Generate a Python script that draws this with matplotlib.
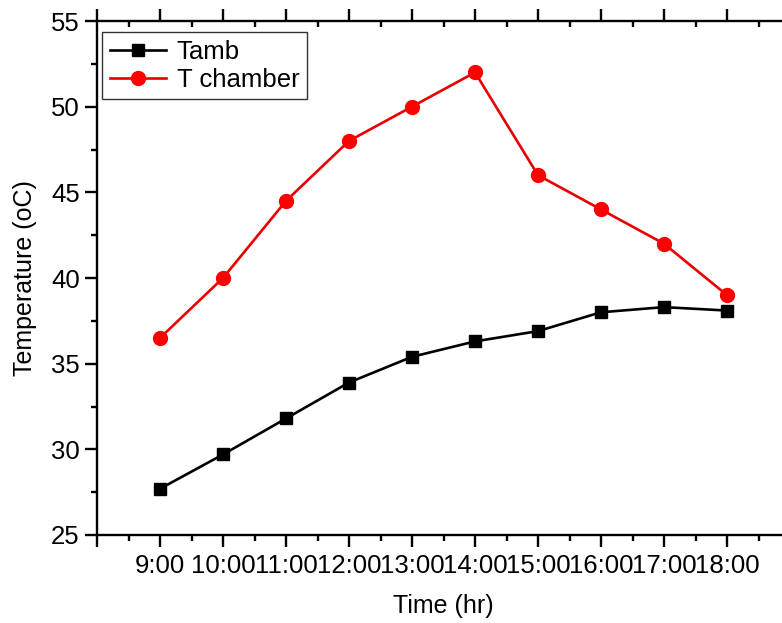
import numpy as np
import matplotlib
matplotlib.use("Agg")
import matplotlib.pyplot as plt
from matplotlib.ticker import FixedLocator, FixedFormatter, MultipleLocator

plt.rcParams['font.family'] = ['Liberation Sans', 'DejaVu Sans']

# data
hours = [9, 10, 11, 12, 13, 14, 15, 16, 17, 18]
tamb = [27.7, 29.7, 31.8, 33.9, 35.4, 36.3, 36.9, 38.0, 38.3, 38.1]
tchamber = [36.5, 40.0, 44.5, 48.0, 50.0, 52.0, 46.0, 44.0, 42.0, 39.0]

major_x = list(range(8, 20))
major_labels = ['' if h in (8, 19) else '%d:00' % h for h in major_x]

fig = plt.figure(figsize=(7.82, 6.23), dpi=100)
# right spine falls just outside the picture, like the source
ax = fig.add_axes([97 / 782, 88 / 623, 693 / 782, 514 / 623])

ax.plot(hours, tamb, '-s', color='black', lw=1.9, ms=9, label='Tamb')
ax.plot(hours, tchamber, '-o', color='#e80000', mfc='red', mec='red',
        lw=1.9, ms=10, label='T chamber')

ax.set_xlim(8, 19)
ax.set_ylim(25, 55)

ax.xaxis.set_major_locator(FixedLocator(major_x))
ax.xaxis.set_major_formatter(FixedFormatter(major_labels))
ax.xaxis.set_minor_locator(MultipleLocator(0.5))
ax.yaxis.set_major_locator(MultipleLocator(5))
ax.yaxis.set_minor_locator(MultipleLocator(2.5))

for sp in ax.spines.values():
    sp.set_linewidth(1.7)

ax.tick_params(which='both', top=True, right=True, width=1.7, labelsize=18.5)
ax.tick_params(which='major', length=8.5)
ax.tick_params(which='minor', length=4.5)
ax.tick_params(axis='x', which='both', direction='out')
ax.tick_params(axis='y', which='both', direction='out')
# ticks on top and right point inwards
for t in ax.xaxis.get_major_ticks() + ax.xaxis.get_minor_ticks():
    t.tick2line.set_marker(3)
for t in ax.yaxis.get_major_ticks() + ax.yaxis.get_minor_ticks():
    t.tick2line.set_marker(0)
ax.tick_params(axis='x', pad=5)
ax.tick_params(axis='y', pad=4)

ax.set_xlabel('Time (hr)', fontsize=18, labelpad=12)
ax.set_ylabel('Temperature (oC)', fontsize=18, labelpad=10)

leg = ax.legend(loc='upper left', bbox_to_anchor=(5 / 693, 1 - 11 / 514),
                fontsize=18.5, frameon=True, fancybox=False,
                edgecolor='black', borderaxespad=0, handlelength=2.2,
                handletextpad=0.4, borderpad=0.3, labelspacing=0.15)
leg.get_frame().set_linewidth(1.0)

fig.savefig('out.png', dpi=100)
